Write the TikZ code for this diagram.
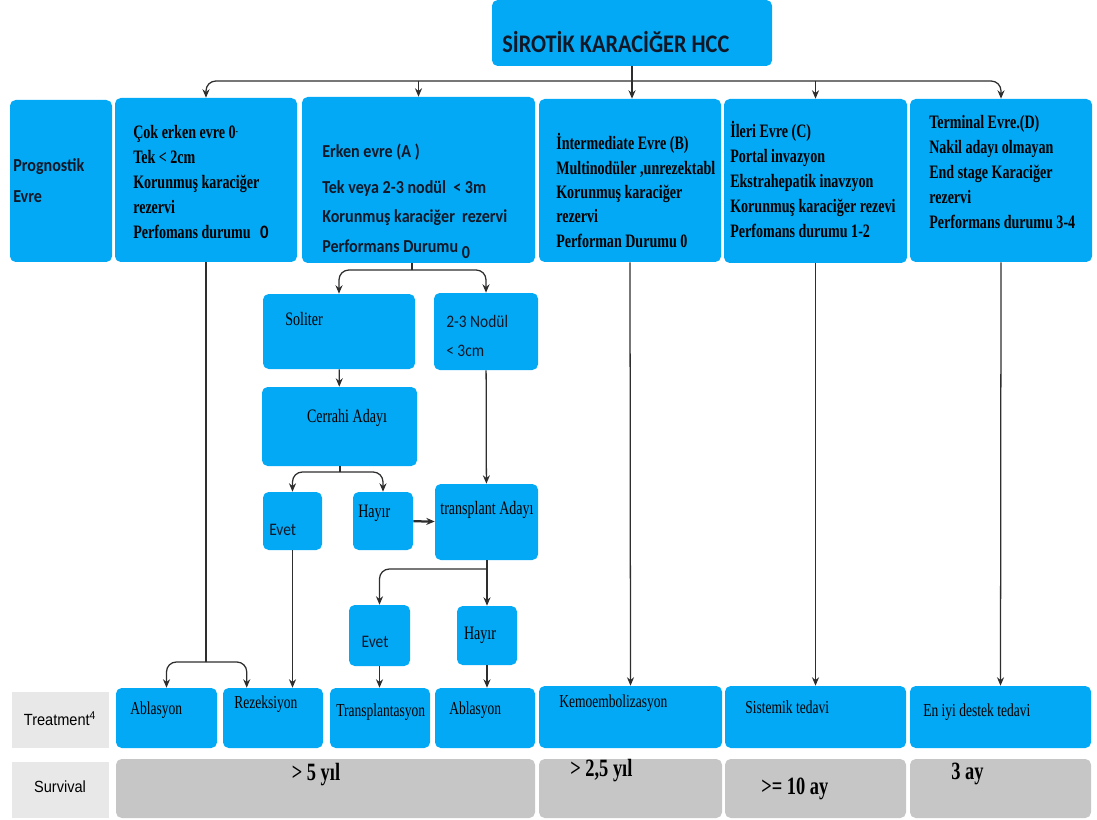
\documentclass[tikz,border=0pt]{standalone}
\usepackage{fontspec}
\setmainfont{Liberation Serif}
\newfontfamily\tnrfont[FakeStretch=0.74]{Liberation Serif}
\newfontfamily\calfont[FakeStretch=0.88]{Carlito}
\newfontfamily\arifont[FakeStretch=0.9]{Liberation Sans}
\usepackage{tikz}
\usetikzlibrary{fit,calc,arrows.meta}
\definecolor{boxblue}{HTML}{03A9F4}
\definecolor{survgray}{HTML}{C6C6C6}
\definecolor{labgray}{HTML}{E8E8E8}
\definecolor{linegray}{HTML}{2E2E2E}
\definecolor{ink}{HTML}{101828}
\tikzset{
  bluebox/.style={fill=boxblue, rounded corners=4pt, inner sep=0pt},
  survbox/.style={fill=survgray, rounded corners=4pt, inner sep=0pt},
  labbox/.style={fill=labgray, inner sep=0pt},
  conn/.style={draw=linegray, line width=0.9pt},
  arr/.style={conn, -{Stealth[length=6pt,width=5pt]}},
  split/.style={arr, rounded corners=7pt},
  hdrtxt/.style={font=\tnrfont\bfseries\fontsize{13.5}{17.8}\selectfont, align=left, anchor=north west, inner sep=0pt, text=black},
  sanshdr/.style={font=\calfont\bfseries\fontsize{13}{21}\selectfont, align=left, anchor=north west, inner sep=0pt, text=ink},
  midtxt/.style={font=\tnrfont\fontsize{13.5}{16}\selectfont, inner sep=0pt, text=black},
  midsans/.style={font=\calfont\fontsize{12.5}{16}\selectfont, inner sep=0pt, text=ink},
  trttxt/.style={font=\tnrfont\fontsize{13}{15}\selectfont, anchor=west, inner sep=0pt, text=black},
  survtxt/.style={font=\tnrfont\bfseries\fontsize{17.7}{20}\selectfont, inner sep=0pt, text=black},
  rowlab/.style={font=\arifont\fontsize{11.5}{14}\selectfont, inner sep=0pt, text=black}
}
\begin{document}
\begin{tikzpicture}[x=0.025cm, y=-0.025cm]
  \useasboundingbox (0,0) rectangle (1097,820);
  % title
  \node[bluebox, fit={(492,0) (772,66)}] (title) {};
  \node[font=\calfont\bfseries\fontsize{18}{20}\selectfont, text=ink, anchor=west, inner sep=0pt] (ttitle) at (502,42) {SİROTİK KARACİĞER HCC};

  % prognostic stages
  \node[bluebox, fit={(10,100) (112,262)}] (prog) {};
  \node[bluebox, fit={(115,98) (297,262)}] (cok) {};
  \node[bluebox, fit={(302,97) (535,263)}] (erken) {};
  \node[bluebox, fit={(539,99) (721,262)}] (interm) {};
  \node[bluebox, fit={(724,99) (907,263)}] (ileri) {};
  \node[bluebox, fit={(910,99) (1092,262)}] (term) {};

  \node[sanshdr, font=\calfont\bfseries\fontsize{13}{22}\selectfont] (tprog) at (13,158) {Prognostik\\Evre};
  \node[hdrtxt] (tcok) at (133,125) {Çok erken evre 0\raisebox{3pt}{\scriptsize -}\\Tek {<} 2cm\\Korunmuş karaciğer\\rezervi\\Perfomans durumu\enspace{\calfont 0}};
  \node[sanshdr] (terken) at (322,144) {Erken evre (A )\\[4.3pt]Tek veya 2-3 nodül\ \ {<} 3m\\Korunmuş karaciğer\ \ rezervi\\Performans Durumu \raisebox{-4pt}{0}};
  \node[hdrtxt, font=\tnrfont\bfseries\fontsize{13.5}{17.4}\selectfont] (tinterm) at (556,133) {İntermediate Evre (B)\\Multinodüler ,unrezektabl\\Korunmuş karaciğer\\rezervi\\Performan Durumu 0};
  \node[hdrtxt] (tileri) at (730,121) {İleri Evre (C)\\Portal invazyon\\Ekstrahepatik inavzyon\\Korunmuş karaciğer rezevi\\Perfomans durumu 1-2};
  \node[hdrtxt] (tterm) at (929,115) {Terminal Evre.(D)\\Nakil adayı olmayan\\End stage Karaciğer\\rezervi\\Performans durumu 3-4};

  % early stage branches
  \node[bluebox, fit={(263,294) (415,369)}] (soliter) {};
  \node[bluebox, fit={(434,293) (538,370)}] (nodul) {};
  \node[bluebox, fit={(262,387) (417,466)}] (cerrahi) {};
  \node[bluebox, fit={(263,492) (322,550)}] (evet1) {};
  \node[bluebox, fit={(353,492) (413,550)}] (hayir1) {};
  \node[bluebox, fit={(435,484) (538,560)}] (transp) {};
  \node[bluebox, fit={(349,605) (410,666)}] (evet2) {};
  \node[bluebox, fit={(457,606) (517,665)}] (hayir2) {};

  \node[midtxt, anchor=west] (tsoliter) at (285,319) {Soliter};
  \node[midsans, anchor=north west, align=left, font=\calfont\fontsize{12.5}{20.6}\selectfont] (tnodul) at (446,315) {2-3 Nodül\\{<} 3cm};
  \node[midtxt] (tcerrahi) at (347,418) {Cerrahi Adayı};
  \node[midsans, anchor=west] (tevet1) at (269,530) {Evet};
  \node[midtxt, anchor=west] (thayir1) at (358,513) {Hayır};
  \node[midtxt] (ttransp) at (487,510) {transplant Adayı};
  \node[midsans] (tevet2) at (375,642) {Evet};
  \node[midtxt] (thayir2) at (480,635) {Hayır};

  % treatment row
  \node[labbox, fit={(12,692) (109,748)}] (trtlab) {};
  \node[rowlab] (ttrtlab) at (60,719) {Treatment\textsuperscript{4}};
  \node[bluebox, fit={(116,688) (217,748)}] (abl1) {};
  \node[bluebox, fit={(223,688) (323,748)}] (rez) {};
  \node[bluebox, fit={(330,688) (430,748)}] (tpl) {};
  \node[bluebox, fit={(435,688) (535,748)}] (abl2) {};
  \node[bluebox, fit={(539,686) (722,748)}] (kemo) {};
  \node[bluebox, fit={(725,686) (906,748)}] (sist) {};
  \node[bluebox, fit={(910,686) (1091,748)}] (eniyi) {};
  \node[trttxt] (tabl1) at (130,710) {Ablasyon};
  \node[trttxt] (trez) at (234,704) {Rezeksiyon};
  \node[trttxt] (ttpl) at (336,712) {Transplantasyon};
  \node[trttxt] (tabl2) at (449,710) {Ablasyon};
  \node[trttxt] (tkemo) at (559,703) {Kemoembolizasyon};
  \node[trttxt] (tsist) at (745,707) {Sistemik tedavi};
  \node[trttxt] (teniyi) at (923,712) {En iyi destek tedavi};

  % survival row
  \node[labbox, fit={(12,762) (109,818)}] (survlab) {};
  \node[rowlab] (tsurvlab) at (60,787) {Survival};
  \node[survbox, fit={(116,759) (535,818)}] (surv1) {};
  \node[survbox, fit={(539,759) (722,818)}] (surv2) {};
  \node[survbox, fit={(725,759) (906,818)}] (surv3) {};
  \node[survbox, fit={(910,759) (1091,818)}] (surv4) {};
  \node[survtxt] (tsurv1) at (316,775) {> 5 yıl};
  \node[survtxt, anchor=west] (tsurv2) at (570,771) {> 2,5 yıl};
  \node[survtxt, anchor=west] (tsurv3) at (761,789) {>= 10 ay};
  \node[survtxt, anchor=west] (tsurv4) at (951,774) {3 ay};

  % connectors
  \coordinate (hub) at (632,81);
  \draw[arr] (title.south -| hub) -- (hub |- interm.north);
  \draw[split] (hub) -| (cok.north);
  \draw[split] (hub) -| (term.north);
  \draw[arr] (hub -| erken.north) -- (erken.north);
  \draw[arr] (hub -| ileri.north) -- (ileri.north);

  \coordinate (cksplit) at (206,662);
  \draw[conn] (cok.south) -- (cksplit);
  \draw[split] (cksplit) -| (abl1.north);
  \draw[split] (cksplit) -| ($(rez.north west)+(24,0)$);
  \draw[arr] (interm.south) -- (kemo.north);
  \draw[arr] (ileri.south) -- (sist.north);
  \draw[arr] (term.south) -- (eniyi.north);

  \coordinate (ersplit) at (412,270);
  \draw[conn] (ersplit |- erken.south) -- (ersplit);
  \draw[split] (ersplit) -| (soliter.north);
  \draw[split] (ersplit) -| (nodul.north);
  \draw[arr] (soliter) -- (cerrahi);
  \coordinate (cesplit) at (340,472);
  \draw[conn] (cesplit |- cerrahi.south) -- (cesplit);
  \draw[split] (cesplit) -| (evet1.north);
  \draw[split] (cesplit) -| (hayir1.north);
  \draw[arr, line width=1.6pt] (hayir1) -- (transp);
  \draw[arr] (nodul) -- (transp);
  \coordinate (trsplit) at (487,569);
  \draw[conn] (trsplit |- transp.south) -- (trsplit);
  \draw[split] (trsplit) -| (evet2.north);
  \draw[arr] (trsplit) -- (trsplit |- hayir2.north);
  \draw[arr] (evet1.south) -- (evet1.south |- rez.north);
  \draw[arr] (evet2.south) -- (evet2.south |- tpl.north);
  \draw[arr] (hayir2.south) -- (hayir2.south |- abl2.north);
\end{tikzpicture}
\end{document}
